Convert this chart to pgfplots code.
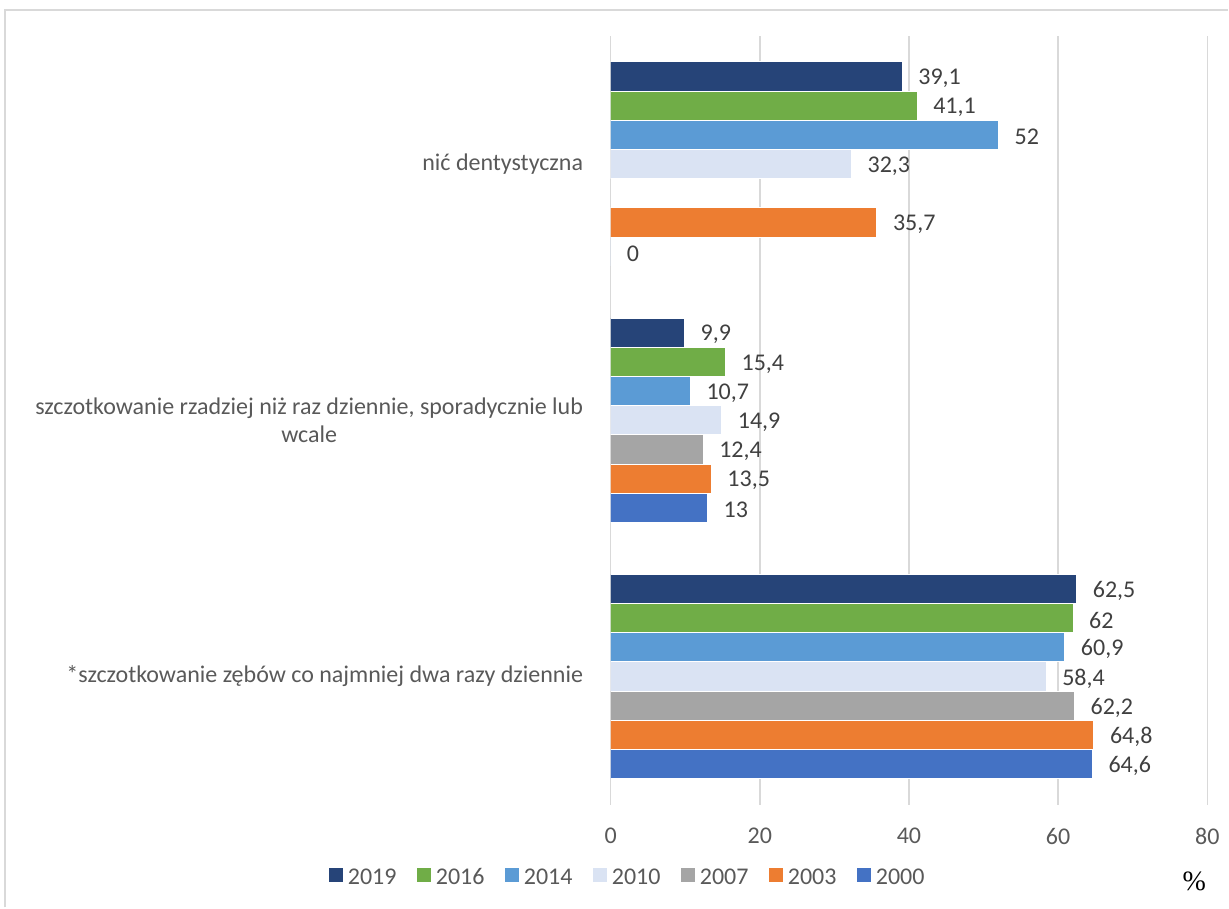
\documentclass[border=0pt]{standalone}
\usepackage{pgfplots}
\pgfplotsset{compat=1.18}
\usepackage{fontspec}
\setmainfont{Carlito}
\newfontfamily\seriffont{Liberation Serif}
\definecolor{c2019}{HTML}{264478}
\definecolor{c2016}{HTML}{70AD47}
\definecolor{c2014}{HTML}{5B9BD5}
\definecolor{c2010}{HTML}{DAE3F3}
\definecolor{c2007}{HTML}{A5A5A5}
\definecolor{c2003}{HTML}{ED7D31}
\definecolor{c2000}{HTML}{4472C4}
\definecolor{gridgray}{HTML}{D9D9D9}
\definecolor{txtgray}{HTML}{595959}
\definecolor{lblgray}{HTML}{404040}
\pgfplotsset{
  mybar/.style={fill=#1, draw=white, line width=0.5pt,
    legend image code/.code={\path[##1,draw=none] (0pt,-3.5pt) rectangle (7pt,3.5pt);}},
}
\begin{document}
\begin{tikzpicture}
\path (0,0) rectangle (614.5pt,-454pt);
\draw[gridgray, line width=0.75pt] (2.5pt,-454pt) -- (2.5pt,-5pt) -- (614.5pt,-5pt);
\begin{axis}[
  at={(305.5pt,-18pt)}, anchor=north west,
  scale only axis, width=298.5pt, height=384.5pt,
  xbar, bar width=14.6pt,
  xmin=0, xmax=80, ymin=-0.5, ymax=2.5,
  xtick={0,20,40,60,80},
  ytick={0,1,2},
  yticklabels={*szczotkowanie zębów co najmniej dwa razy dziennie,
    {szczotkowanie rzadziej niż raz dziennie, sporadycznie lub\\wcale},
    nić dentystyczna},
  font=\fontsize{12}{14}\selectfont,
  yticklabel style={align=center, text=txtgray, xshift=-6pt, font=\fontsize{12}{14}\selectfont},
  xticklabel style={text=txtgray, yshift=-8.4pt},
  /pgf/number format/assume math mode=true,
  /pgf/number format/use comma,
  /pgf/number format/fixed,
  /pgf/number format/precision=1,
  tick style={draw=none},
  axis line style={draw=none},
  xmajorgrids, grid style={color=gridgray, line width=0.75pt},
  nodes near coords,
  every node near coord/.append style={text=lblgray, xshift=4.5pt, yshift=-1pt, font=\fontsize{12}{14}\selectfont},
  legend columns=7,
  legend style={at={(axis description cs:0.027,-0.0923)}, anchor=center, draw=none,
    inner sep=0pt, nodes={inner sep=0pt, text=txtgray, text height=8.6pt, text depth=0pt},
    font=\fontsize{12}{14}\selectfont,
    /tikz/every odd column/.append style={column sep=2.5pt},
    /tikz/every even column/.append style={column sep=10.2pt}},
]
\addplot[mybar=c2019, bar shift=43.8pt] coordinates {(39.1,2) (9.9,1) (62.5,0)};
\addlegendentry{2019}
\addplot[mybar=c2016, bar shift=29.2pt] coordinates {(41.1,2) (15.4,1) (62,0)};
\addlegendentry{2016}
\addplot[mybar=c2014, bar shift=14.6pt] coordinates {(52,2) (10.7,1) (60.9,0)};
\addlegendentry{2014}
\addplot[mybar=c2010, bar shift=0pt] coordinates {(32.3,2) (14.9,1) (58.4,0)};
\addlegendentry{2010}
\addplot[mybar=c2007, bar shift=-14.6pt] coordinates {(12.4,1) (62.2,0)};
\addlegendentry{2007}
\addplot[mybar=c2003, bar shift=-29.2pt] coordinates {(35.7,2) (13.5,1) (64.8,0)};
\addlegendentry{2003}
\addplot[mybar=c2000, bar shift=-43.8pt] coordinates {(0,2) (13,1) (64.6,0)};
\addlegendentry{2000}
\end{axis}
\node[font=\seriffont\fontsize{14}{16}\selectfont, inner sep=0pt] at (597.5pt,-441pt) {\%};
\end{tikzpicture}
\end{document}
